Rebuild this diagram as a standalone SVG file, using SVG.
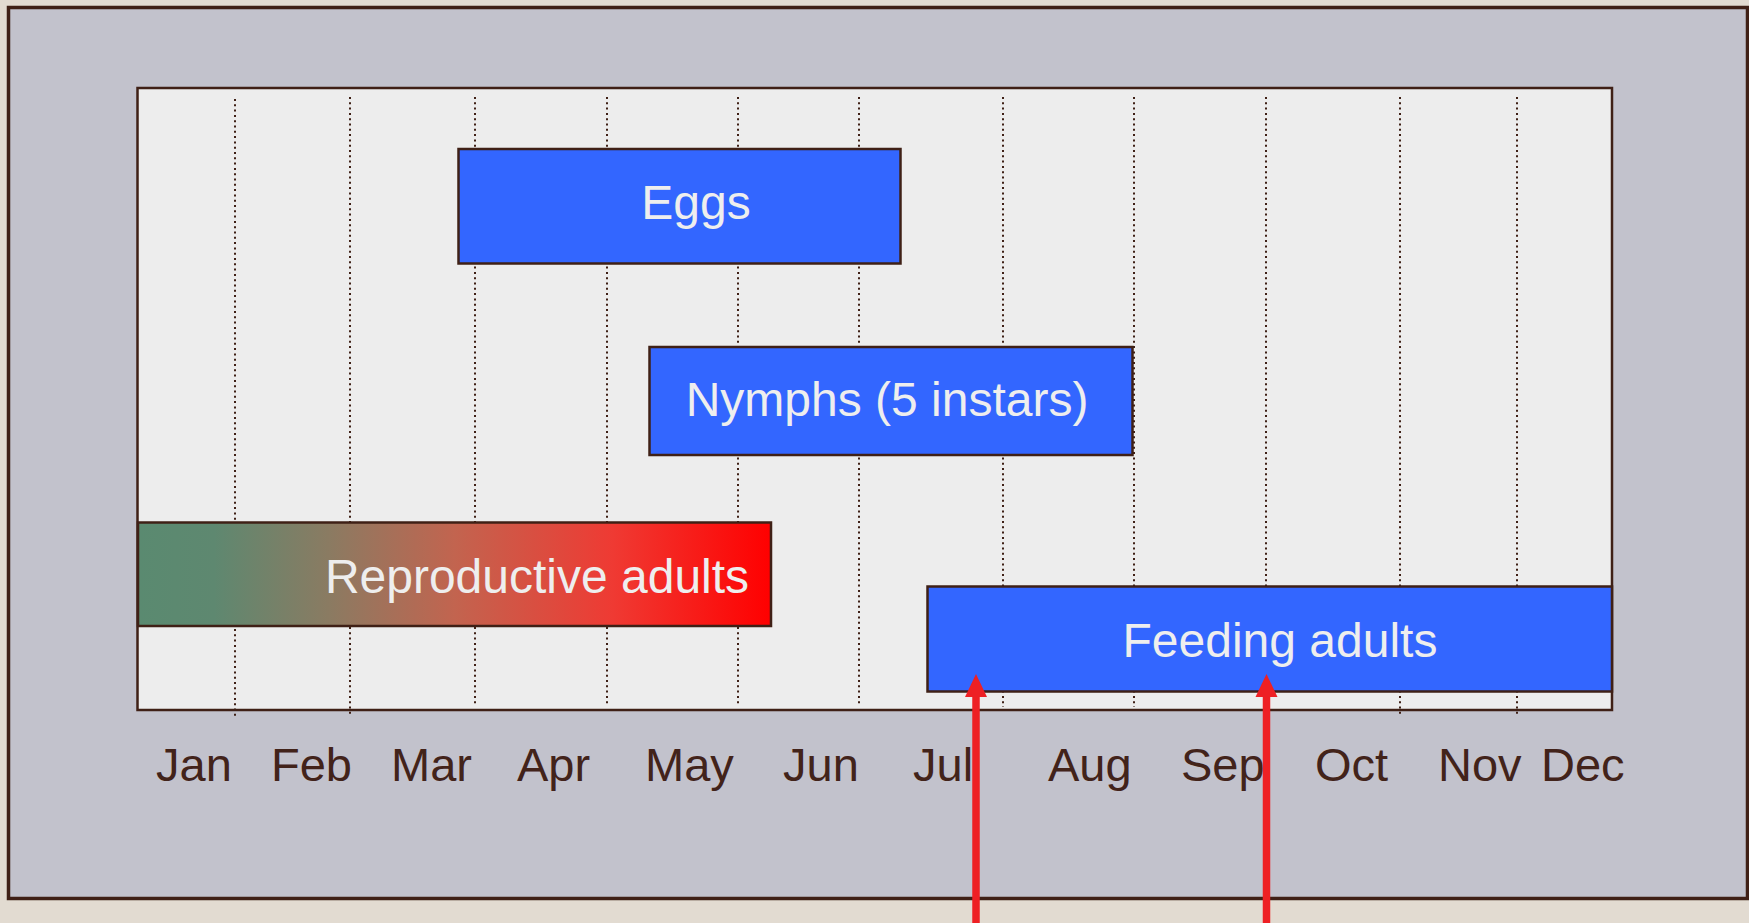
<svg xmlns="http://www.w3.org/2000/svg" width="1749" height="923" viewBox="0 0 1749 923">
<defs>
<style>
.grid{stroke:#3f2016;stroke-width:2;stroke-dasharray:2 3.3;fill:none}
.bar{fill:#3366ff;stroke:#3f2016;stroke-width:2.5}
.lbl{font-family:"Liberation Sans",Arial,sans-serif;font-size:48px;fill:#eeeeee}
.mon{font-family:"Liberation Sans",Arial,sans-serif;font-size:47px;fill:#42231a}
.arr{stroke:#ee2024;stroke-width:7.5;fill:none}
.head{fill:#ee2024}
</style>
<linearGradient id="rg" x1="0" y1="0" x2="1" y2="0">
<stop offset="0" stop-color="#5a8a70"/>
<stop offset="0.12" stop-color="#5e8870"/>
<stop offset="0.3" stop-color="#8a7b62"/>
<stop offset="0.5" stop-color="#c2644f"/>
<stop offset="0.75" stop-color="#ef3a33"/>
<stop offset="1" stop-color="#ff0000"/>
</linearGradient>
</defs>
<rect x="0" y="0" width="1749" height="923" fill="#e2dbd1"/>
<rect id="frame" x="8.5" y="7.5" width="1739" height="891" fill="#c2c2cc" stroke="#3f2016" stroke-width="3.5"/>
<rect id="plot" x="137.5" y="88" width="1474.5" height="622" fill="#ededed" stroke="#3f2016" stroke-width="2.5"/>
<g id="gridlines">
<line class="grid" x1="235" y1="99" x2="235" y2="719"/>
<line class="grid" x1="350" y1="97" x2="350" y2="717"/>
<line class="grid" x1="475" y1="97" x2="475" y2="705"/>
<line class="grid" x1="607" y1="97" x2="607" y2="705"/>
<line class="grid" x1="738" y1="97" x2="738" y2="705"/>
<line class="grid" x1="859" y1="97" x2="859" y2="705"/>
<line class="grid" x1="1003" y1="97" x2="1003" y2="707"/>
<line class="grid" x1="1134" y1="97" x2="1134" y2="707"/>
<line class="grid" x1="1266" y1="97" x2="1266" y2="707"/>
<line class="grid" x1="1400" y1="97" x2="1400" y2="715"/>
<line class="grid" x1="1517" y1="97" x2="1517" y2="717"/>
</g>
<g id="eggs">
<rect class="bar" x="458.5" y="149" width="442" height="114.5"/>
<text class="lbl" x="696" y="219" text-anchor="middle">Eggs</text>
</g>
<g id="nymphs">
<rect class="bar" x="649.5" y="347" width="483" height="108"/>
<text class="lbl" x="887" y="416" text-anchor="middle">Nymphs (5 instars)</text>
</g>
<g id="reproductive">
<rect x="138" y="522.5" width="633" height="103.5" fill="url(#rg)" stroke="#3f2016" stroke-width="2.5"/>
<text class="lbl" x="537" y="592.5" text-anchor="middle">Reproductive adults</text>
</g>
<g id="feeding">
<rect class="bar" x="927.5" y="586.5" width="684.5" height="105"/>
<text class="lbl" x="1280" y="656.5" text-anchor="middle">Feeding adults</text>
</g>
<g id="months">
<text class="mon" x="156" y="781">Jan</text>
<text class="mon" x="271" y="781">Feb</text>
<text class="mon" x="391" y="781">Mar</text>
<text class="mon" x="517" y="781">Apr</text>
<text class="mon" x="645" y="781">May</text>
<text class="mon" x="783" y="781">Jun</text>
<text class="mon" x="913" y="781">Jul</text>
<text class="mon" x="1048" y="781">Aug</text>
<text class="mon" x="1181" y="781">Sep</text>
<text class="mon" x="1315" y="781">Oct</text>
<text class="mon" x="1438" y="781">Nov</text>
<text class="mon" x="1541" y="781">Dec</text>
</g>
<g id="connectors">
<line class="arr" x1="976" y1="923" x2="976" y2="694"/>
<polygon class="head" points="976,674 965,697 987,697"/>
<line class="arr" x1="1266.5" y1="923" x2="1266.5" y2="694"/>
<polygon class="head" points="1266.5,674 1255.5,697 1277.5,697"/>
</g>
</svg>
